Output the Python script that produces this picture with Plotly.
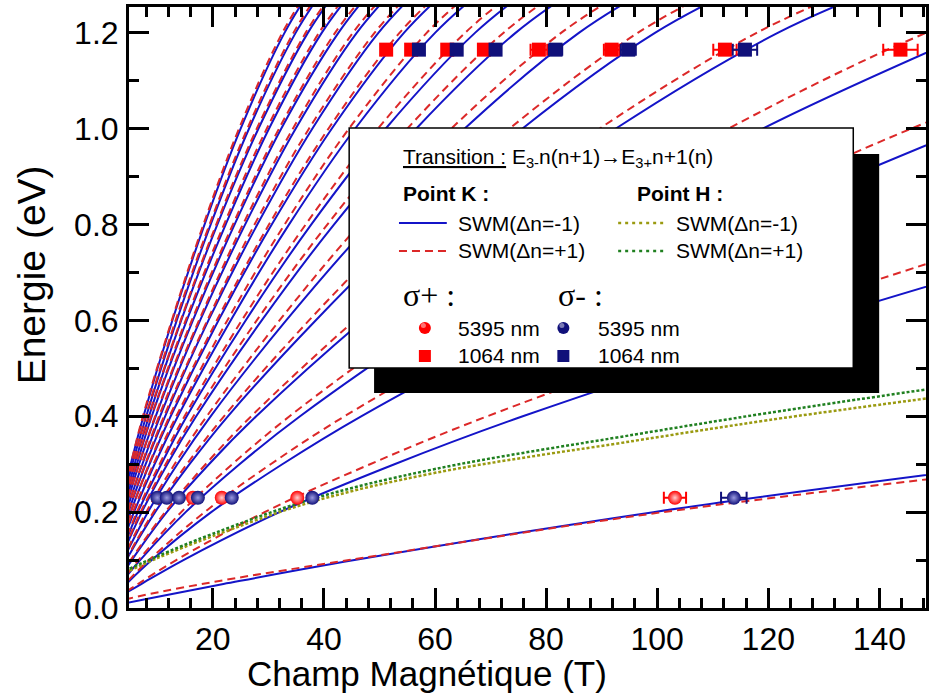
import plotly.graph_objects as go

# energy levels (eV) at which the field of each transition curve was read
E_LEVELS = [0.01, 0.02, 0.05, 0.1, 0.2, 0.3, 0.4, 0.6, 0.8, 1.0, 1.2, 1.3]

# Point K, SWM(dn=-1): field (T) where each transition reaches E_LEVELS
K_MINUS = [
    [4.2, 8.5, 21.9, 45.5, 99.3, 163.6, None, None, None, None, None, None],
    [None, 2.7, 7.1, 14.7, 32.0, 52.7, 75.8, 128.4, 186.6, None, None, None],
    [None, None, 4.4, 9.0, 19.7, 32.5, 46.7, 79.1, 115.0, 155.7, None, None],
    [None, None, 3.3, 6.9, 15.1, 24.8, 35.7, 60.5, 87.9, 119.0, 156.6, None],
    [None, None, 2.6, 5.4, 11.7, 19.3, 27.8, 47.0, 68.3, 92.5, 121.7, 141.4],
    [None, None, 2.1, 4.4, 9.6, 15.8, 22.7, 38.5, 55.9, 75.7, 99.6, 115.8],
    [None, None, None, 3.8, 8.3, 13.6, 19.6, 33.2, 48.2, 65.3, 85.9, 99.8],
    [None, None, None, 3.3, 7.2, 11.8, 17.0, 28.8, 41.8, 56.6, 74.5, 86.6],
    [None, None, None, 3.0, 6.5, 10.7, 15.3, 25.9, 37.7, 51.1, 67.2, 78.0],
    [None, None, None, 2.6, 5.8, 9.5, 13.7, 23.2, 33.7, 45.6, 60.0, 69.7],
    [None, None, None, 2.4, 5.2, 8.6, 12.4, 21.0, 30.6, 41.4, 54.4, 63.2],
    [None, None, None, 2.2, 4.8, 7.9, 11.4, 19.2, 28.0, 37.9, 49.8, 57.9],
    [None, None, None, 2.0, 4.4, 7.3, 10.5, 17.7, 25.8, 34.9, 45.9, 53.4],
    [None, None, None, 1.9, 4.1, 6.7, 9.7, 16.4, 23.9, 32.3, 42.6, 49.4],
    [None, None, None, 1.7, 3.8, 6.3, 9.0, 15.3, 22.3, 30.1, 39.6, 46.1],
    [None, None, None, 1.6, 3.6, 5.9, 8.5, 14.3, 20.8, 28.2, 37.1, 43.1],
    [None, None, None, 1.5, 3.4, 5.5, 8.0, 13.5, 19.6, 26.5, 34.9, 40.5],
    [None, None, None, 1.5, 3.2, 5.2, 7.5, 12.7, 18.5, 25.0, 32.9, 38.2],
]

# Point K, SWM(dn=+1)
K_PLUS = [
    [2.0, 5.0, 18.0, 44.5, 101.0, 172.0, None, None, None, None, None, None],
    [None, 2.5, 6.5, 13.4, 29.3, 48.3, 69.4, 117.5, 170.8, None, None, None],
    [None, 1.6, 4.1, 8.5, 18.5, 30.4, 43.7, 74.0, 107.6, 145.7, 191.7, None],
    [None, None, 3.2, 6.6, 14.3, 23.5, 33.8, 57.3, 83.3, 112.8, 148.4, 172.4],
    [None, None, 2.5, 5.2, 11.4, 18.7, 26.9, 45.5, 66.2, 89.6, 117.9, 137.0],
    [None, None, 2.1, 4.3, 9.3, 15.3, 22.0, 37.3, 54.2, 73.4, 96.5, 112.1],
    [None, None, None, 3.7, 8.0, 13.1, 18.9, 32.0, 46.4, 62.9, 82.7, 96.1],
    [None, None, None, 3.2, 7.0, 11.5, 16.5, 27.9, 40.6, 55.0, 72.3, 84.0],
    [None, None, None, 2.9, 6.3, 10.4, 14.9, 25.2, 36.7, 49.7, 65.4, 75.9],
    [None, None, None, 2.6, 5.6, 9.3, 13.4, 22.6, 32.9, 44.5, 58.5, 68.0],
    [None, None, None, 2.4, 5.2, 8.5, 12.2, 20.7, 30.1, 40.8, 53.6, 62.3],
    [None, None, None, 2.2, 4.7, 7.8, 11.2, 19.0, 27.5, 37.3, 49.1, 57.0],
    [None, None, None, 2.0, 4.4, 7.2, 10.3, 17.5, 25.4, 34.4, 45.2, 52.6],
    [None, None, None, 1.9, 4.0, 6.7, 9.6, 16.2, 23.6, 31.9, 42.0, 48.8],
    [None, None, None, 1.7, 3.8, 6.2, 8.9, 15.1, 22.0, 29.7, 39.1, 45.5],
    [None, None, None, 1.6, 3.5, 5.8, 8.4, 14.2, 20.6, 27.9, 36.7, 42.6],
    [None, None, None, 1.5, 3.3, 5.5, 7.9, 13.3, 19.4, 26.2, 34.5, 40.1],
    [None, None, None, 1.4, 3.1, 5.2, 7.4, 12.6, 18.3, 24.7, 32.5, 37.8],
]

# Point H curves
H_FIELD = [5, 10, 20, 38, 60, 96, 120, 149]
H_MINUS = [0.078, 0.104, 0.150, 0.222, 0.282, 0.349, 0.392, 0.438]
H_PLUS = [0.082, 0.108, 0.155, 0.228, 0.290, 0.362, 0.407, 0.457]

# experimental points
E_5395 = 0.23
E_1064 = 1.165
SP_5395_B = [16.4, 21.6, 35.2, 103.2]
SP_5395_ERR = [0, 0, 0, 2.0]
SM_5395_B = [10.0, 11.7, 13.9, 17.3, 23.4, 37.9, 113.8]
SM_5395_ERR = [0, 0, 0, 0, 0, 0, 2.3]
SP_1064_B = [51.2, 55.7, 62.2, 68.8, 78.7, 91.8, 112.2, 143.8]
SP_1064_ERR = [0, 0, 0, 0, 1.5, 1.4, 2.1, 3.1]
SM_1064_B = [57.1, 63.9, 70.9, 81.7, 94.8, 115.8]
SM_1064_ERR = [0, 0, 0, 1.2, 1.35, 2.2]

BLUE = '#1414c8'
RED = '#dc2828'
NAVY = '#10107a'
OLIVE = '#9a9a10'
GREEN = '#208020'
FONT = 'Arial, Liberation Sans, sans-serif'

fig = go.Figure()

for fields in K_MINUS:
    fig.add_trace(go.Scatter(x=fields, y=E_LEVELS, mode='lines', line_shape='spline',
                             line=dict(color=BLUE, width=2), showlegend=False))
for fields in K_PLUS:
    fig.add_trace(go.Scatter(x=fields, y=E_LEVELS, mode='lines', line_shape='spline',
                             line=dict(color=RED, width=2, dash='8px,5px'), showlegend=False))

fig.add_trace(go.Scatter(x=H_FIELD, y=H_MINUS, mode='lines', line_shape='spline',
                         line=dict(color=OLIVE, width=2.5, dash='3px,2px'), showlegend=False))
fig.add_trace(go.Scatter(x=H_FIELD, y=H_PLUS, mode='lines', line_shape='spline',
                         line=dict(color=GREEN, width=2.5, dash='3px,2px'), showlegend=False))


def points(xs, errs, energy, color, symbol, center):
    marker = dict(color=color, size=14, symbol=symbol)
    if center:
        marker['gradient'] = dict(type='radial', color=center)
    fig.add_trace(go.Scatter(
        x=xs, y=[energy] * len(xs), mode='markers', marker=marker, showlegend=False,
        hoverinfo='skip',
        error_x=dict(type='data', array=errs, color=color, thickness=2, width=6)))


points(SP_5395_B, SP_5395_ERR, E_5395, '#ff0000', 'circle', '#ffd0d0')
points(SM_5395_B, SM_5395_ERR, E_5395, NAVY, 'circle', '#9a9ae0')
points(SP_1064_B, SP_1064_ERR, E_1064, '#ff0000', 'square', None)
points(SM_1064_B, SM_1064_ERR, E_1064, NAVY, 'square', None)


# legend panel, placed in pixels of the 931x693 page
def px(x):
    return (x - 129) / 800


def py(y):
    return (608 - y) / 601


shapes = [
    dict(type='rect', xref='paper', yref='paper', x0=px(375), x1=px(882), y0=py(393), y1=py(154),
         fillcolor='black', line=dict(width=0), layer='above'),
    dict(type='rect', xref='paper', yref='paper', x0=px(350), x1=px(856), y0=py(368), y1=py(128),
         fillcolor='white', line=dict(color='black', width=1.5), layer='above'),
]
samples = [(400, 223, BLUE, 'solid', 2), (400, 251, RED, '8px,5px', 2),
           (620, 223, OLIVE, '3px,4px', 2.5), (620, 251, GREEN, '3px,4px', 2.5)]
for x0, y0, c, d, w in samples:
    shapes.append(dict(type='line', xref='paper', yref='paper', x0=px(x0), x1=px(x0 + 48),
                       y0=py(y0), y1=py(y0), line=dict(color=c, dash=d, width=w), layer='above'))
for x0, y0, c, kind in [(426, 328, '#ff0000', 'circle'), (565, 328, NAVY, 'circle'),
                        (426, 356, '#ff0000', 'rect'), (565, 356, NAVY, 'rect')]:
    shapes.append(dict(type=kind, xref='paper', yref='paper', xsizemode='pixel', ysizemode='pixel',
                       xanchor=px(x0), yanchor=py(y0), x0=-6, x1=6, y0=-6, y1=6,
                       fillcolor=c, line=dict(width=0), layer='above'))
    if kind == 'circle':
        shapes.append(dict(type='circle', xref='paper', yref='paper', xsizemode='pixel',
                           ysizemode='pixel', xanchor=px(x0), yanchor=py(y0), x0=-4, x1=1, y0=0, y1=5,
                           fillcolor='rgba(255,255,255,0.45)', line=dict(width=0), layer='above'))

texts = [
    (402, 158, '<u>Transition :</u> E<sub>3-</sub>n(n+1)→E<sub>3+</sub>n+1(n)', 21, FONT),
    (402, 194, '<b>Point K :</b>', 21, FONT),
    (637, 194, '<b>Point H :</b>', 21, FONT),
    (457, 223, 'SWM(Δn=-1)', 21, FONT),
    (457, 251, 'SWM(Δn=+1)', 21, FONT),
    (676, 223, 'SWM(Δn=-1)', 21, FONT),
    (676, 251, 'SWM(Δn=+1)', 21, FONT),
    (402, 295, 'σ+ :', 32, 'Liberation Serif, serif'),
    (558, 295, 'σ- :', 32, 'Liberation Serif, serif'),
    (457, 328, '5395 nm', 21, FONT),
    (457, 356, '1064 nm', 21, FONT),
    (598, 328, '5395 nm', 21, FONT),
    (598, 356, '1064 nm', 21, FONT),
]
annotations = [dict(x=px(x), y=py(y), xref='paper', yref='paper', text=t, showarrow=False,
                    xanchor='left', yanchor='middle', font=dict(size=s, family=f, color='black'))
               for x, y, t, s, f in texts]
annotations.append(dict(x=px(428), y=py(674), xref='paper', yref='paper', text='Champ Magnétique (T)',
                        showarrow=False, xanchor='center', yanchor='middle',
                        font=dict(size=35, family=FONT, color='black')))
annotations.append(dict(x=px(31), y=py(275), xref='paper', yref='paper', text='Energie (eV)',
                        showarrow=False, textangle=-90, xanchor='center', yanchor='middle',
                        font=dict(size=39, family=FONT, color='black')))

axis = dict(showline=True, linewidth=3, linecolor='black', mirror='ticks', ticks='inside',
            ticklen=20, tickwidth=3, tickcolor='black', showgrid=False, zeroline=False,
            ticklabelstandoff=1, tickfont=dict(size=32, family=FONT, color='black'))

fig.update_layout(
    width=931, height=693,
    margin=dict(l=129, r=2, t=7, b=85),
    paper_bgcolor='white', plot_bgcolor='white',
    hovermode=False,
    shapes=shapes, annotations=annotations,
    xaxis=dict(axis, range=[4.9, 148.4], tick0=0, dtick=20,
               minor=dict(ticks='inside', ticklen=10, tickwidth=3, tickcolor='black', dtick=4, tick0=0)),
    yaxis=dict(axis, range=[0, 1.254], tick0=0, dtick=0.2, tickformat='.1f',
               minor=dict(ticks='inside', ticklen=10, tickwidth=3, tickcolor='black', dtick=0.1, tick0=0)),
)

# drop the default page margin so the figure sits at the window's corner
fig.write_html("out.html", config={'displayModeBar': False},
               post_script="document.body.style.margin='0';")
